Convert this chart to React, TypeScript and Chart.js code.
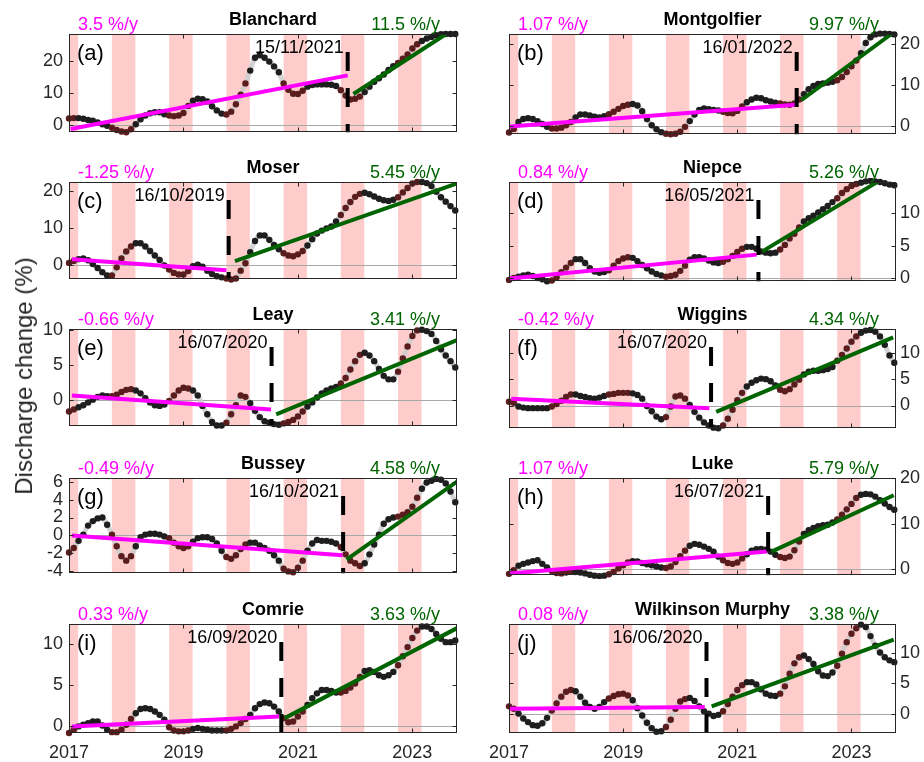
import React, { useEffect, useRef } from "react";
import { Chart, registerables } from "chart.js";

Chart.register(...registerables);

// ---------------- data ----------------
const START_YEAR = 2017; // first sample, one sample per month
const X_MIN = 2017;
const X_MAX = 2023.78;
const X_TICKS = [2017, 2019, 2021, 2023];
const SEASON_BANDS: number[][] = [
  [2016.75, 2017.16],
  [2017.75, 2018.16],
  [2018.75, 2019.16],
  [2019.75, 2020.16],
  [2020.75, 2021.16],
  [2021.75, 2022.16],
  [2022.75, 2023.16],
];

const NAMES = ["Blanchard", "Montgolfier", "Moser", "Niepce", "Leay", "Wiggins", "Bussey", "Luke", "Comrie", "Wilkinson Murphy"];
const LETTERS = ["(a)", "(b)", "(c)", "(d)", "(e)", "(f)", "(g)", "(h)", "(i)", "(j)"];
const PRE_RATES = ["3.5 %/y", "1.07 %/y", "-1.25 %/y", "0.84 %/y", "-0.66 %/y", "-0.42 %/y", "-0.49 %/y", "1.07 %/y", "0.33 %/y", "0.08 %/y"];
const POST_RATES = ["11.5 %/y", "9.97 %/y", "5.45 %/y", "5.26 %/y", "3.41 %/y", "4.34 %/y", "4.58 %/y", "5.79 %/y", "3.63 %/y", "3.38 %/y"];
const BREAK_LABELS = ["15/11/2021", "16/01/2022", "16/10/2019", "16/05/2021", "16/07/2020", "16/07/2020", "16/10/2021", "16/07/2021", "16/09/2020", "16/06/2020"];
const BREAK_YEARS = [2021.87, 2022.04, 2019.79, 2021.37, 2020.54, 2020.54, 2021.79, 2021.54, 2020.71, 2020.46];

// trend segments [x0, y0, x1, y1]
const PRE_TRENDS = [
  [2017.03, -1.2, 2021.87, 15.5],
  [2017.01, -0.1, 2022.02, 5.2],
  [2017.05, 1.6, 2019.75, -1.4],
  [2017.01, -0.1, 2021.34, 3.6],
  [2017.05, 0.6, 2020.53, -1.4],
  [2017.04, 1.3, 2020.51, -0.5],
  [2017.05, 0.0, 2021.78, -2.2],
  [2017.02, -0.9, 2021.52, 3.9],
  [2017.05, 0.0, 2020.67, 1.2],
  [2017.02, 0.8, 2020.43, 1.1],
];
const POST_TRENDS = [
  [2021.97, 9.7, 2023.59, 28.4],
  [2022.12, 6.3, 2023.7, 22.5],
  [2019.9, 1.1, 2023.78, 22.0],
  [2021.44, 4.1, 2023.47, 14.9],
  [2020.62, -2.1, 2023.78, 8.5],
  [2020.63, -1.2, 2023.73, 12.9],
  [2021.85, -2.7, 2023.78, 6.0],
  [2021.6, 3.9, 2023.74, 16.3],
  [2020.77, 1.0, 2023.78, 11.9],
  [2020.55, 1.2, 2023.74, 12.2],
];

const Y_MIN = [-2.2, -2.0, -3.8, -0.5, -3.8, -4.3, -4.2, -1.3, -0.8, -3.2];
const Y_MAX = [28.4, 22.5, 22.4, 14.8, 10.1, 14.5, 6.4, 20.1, 12.4, 14.8];
const Y_TICKS = [
  [0, 10, 20],
  [0, 10, 20],
  [0, 10, 20],
  [0, 5, 10],
  [0, 5, 10],
  [0, 5, 10],
  [-4, -2, 0, 2, 4, 6],
  [0, 10, 20],
  [0, 5, 10],
  [0, 5, 10],
];

const BLANCHARD = [
  2.1, 2.2, 2.2, 2.0, 1.6, 1.4, 0.8, 0.3, -0.2, -0.8, -1.5, -2.0,
  -2.2, -1.3, 0.3, 1.8, 3.0, 3.7, 4.0, 4.0, 3.4, 3.0, 2.8, 3.0,
  3.8, 6.0, 7.6, 8.2, 8.1, 7.4, 5.9, 4.6, 3.6, 3.3, 4.2, 6.5,
  9.5, 13.0, 17.0, 21.0, 21.8, 21.0, 19.8, 18.3, 16.5, 13.0, 11.0, 9.8,
  9.7, 10.7, 12.0, 12.5, 12.7, 12.7, 12.7, 12.6, 12.2, 10.9, 9.2, 8.0,
  8.2, 8.9, 10.3, 12.0, 13.5, 14.6, 15.8, 17.2, 18.4, 19.4, 20.7, 22.0,
  23.9, 25.2, 26.2, 27.0, 27.5, 28.0, 28.3, 28.4, 28.4, 28.4,
];
const MONTGOLFIER = [
  -1.6, -0.7, 1.0, 1.7, 1.9, 1.7, 1.2, 0.5, -0.2, -0.6, -0.6, -0.4,
  0.2, 1.0, 2.1, 2.8, 2.8, 2.6, 2.3, 2.1, 2.4, 2.9, 3.5, 4.2,
  4.9, 5.2, 5.4, 5.0, 3.6, 1.7, 0.2, -0.8, -1.5, -1.9, -2.0, -1.9,
  -1.4, -0.2, 1.2, 2.8, 3.9, 4.3, 4.1, 3.9, 3.8, 3.5, 3.2, 3.1,
  3.7, 4.8, 5.8, 6.5, 6.9, 6.8, 6.3, 6.0, 5.7, 5.5, 5.3, 5.2,
  5.5, 6.5, 7.8, 9.0, 9.8, 10.3, 10.4, 10.6, 10.8, 11.2, 12.0, 13.2,
  14.6, 16.0, 17.8, 20.3, 21.7, 22.4, 22.6, 22.6, 22.5, 22.4,
];
const MOSER = [
  0.6, 1.1, 1.6, 1.8, 1.3, 0.3, -0.8, -1.9, -2.8, -2.8, -0.6, 1.8,
  3.7, 5.0, 5.9, 5.9, 5.0, 3.8, 2.6, 1.4, -0.1, -1.2, -2.1, -2.5,
  -2.5, -1.6, -0.3, 0.1, -0.4, -1.5, -2.4, -3.0, -3.3, -3.6, -3.9, -3.6,
  -1.5, 0.5, 3.5, 6.5, 8.0, 8.0, 6.8, 5.4, 4.3, 3.2, 2.6, 2.4,
  2.9, 3.8, 5.3, 7.0, 8.5, 9.3, 9.9, 10.4, 11.8, 13.5, 15.4, 17.0,
  18.4, 19.2, 19.5, 19.1, 18.5, 17.9, 17.5, 17.3, 17.6, 18.3, 19.6, 20.8,
  22.0, 22.4, 22.4, 22.1, 21.3, 19.8, 18.3, 17.1, 15.9, 14.7,
];
const NIEPCE = [
  -0.3, 0.0, 0.2, 0.4, 0.5, 0.3, 0.0, -0.2, -0.5, -0.4, 0.1, 0.9,
  1.6, 2.3, 2.9, 2.9, 2.3, 1.5, 1.0, 0.8, 0.9, 1.2, 1.9, 2.6,
  3.0, 3.2, 3.1, 2.6, 2.0, 1.5, 1.0, 0.6, 0.4, 0.2, 0.3, 0.5,
  1.1, 1.9, 2.8, 3.2, 3.2, 3.0, 2.7, 2.4, 2.3, 2.5, 2.9, 3.4,
  4.0, 4.5, 4.8, 4.8, 4.5, 4.1, 3.9, 3.8, 3.9, 4.4, 5.1, 6.1,
  6.8, 7.8, 8.7, 9.2, 9.6, 10.1, 10.6, 11.1, 11.7, 12.3, 13.1, 13.7,
  14.2, 14.5, 14.7, 14.9, 15.0, 14.9, 14.8, 14.6, 14.4, 14.3,
];
const LEAY = [
  -1.7, -1.4, -1.1, -0.8, -0.4, 0.0, 0.4, 0.6, 0.5, 0.5, 0.7, 1.1,
  1.4, 1.5, 1.3, 0.9, 0.2, -0.4, -0.8, -0.9, -0.7, -0.2, 0.6, 1.3,
  1.7, 1.6, 1.3, 0.6, -0.9, -2.1, -3.2, -3.7, -3.7, -3.3, -2.1, -0.8,
  0.6, 0.4, -0.5, -1.6, -2.5, -3.1, -3.3, -3.5, -3.6, -3.4, -3.2, -2.9,
  -2.4, -1.7, -1.0, -0.4, 0.3, 0.9, 1.3, 1.6, 1.8, 2.3, 3.1, 4.3,
  5.5, 6.4, 6.7, 6.3, 5.5, 4.4, 3.4, 2.9, 2.9, 4.0, 5.9, 7.6,
  9.1, 9.9, 10.0, 9.8, 9.4, 8.4, 7.2, 6.3, 5.5, 4.6,
];
const WIGGINS = [
  0.7, 0.5, -0.2, -0.4, -0.5, -0.5, -0.5, -0.5, -0.5, -0.2, 0.3, 0.9,
  1.6, 2.1, 2.1, 1.8, 1.6, 1.4, 1.3, 1.5, 1.8, 2.1, 2.2, 2.4,
  2.4, 2.4, 2.3, 2.0, 1.3, -0.1, -1.1, -2.1, -2.6, -2.2, -0.2, 1.7,
  1.9, 1.3, 0.1, -1.2, -2.3, -3.2, -3.8, -4.2, -4.3, -3.8, -2.5, -0.8,
  1.0, 2.4, 3.6, 4.3, 4.8, 5.1, 5.0, 4.6, 3.8, 3.0, 2.7, 3.1,
  4.0, 4.9, 5.9, 6.4, 6.6, 6.6, 6.7, 6.9, 7.3, 8.5, 9.6, 10.8,
  12.1, 13.1, 13.8, 14.2, 14.3, 14.0, 13.1, 11.5, 9.5, 8.1,
];
const BUSSEY = [
  -1.9, -1.4, -0.6, 0.1, 1.1, 1.6, 1.9, 2.0, 1.2, 0.1, -1.2, -2.3,
  -2.8, -2.3, -1.2, -0.2, 0.1, 0.2, 0.2, 0.1, -0.1, -0.3, -0.8, -1.2,
  -1.4, -1.2, -0.7, -0.3, -0.2, -0.2, -0.4, -0.9, -1.7, -2.4, -2.6, -2.2,
  -1.5, -1.0, -0.8, -0.8, -1.1, -1.4, -1.7, -2.2, -2.8, -3.7, -4.0, -4.1,
  -3.6, -2.8, -1.7, -0.9, -0.5, -0.6, -0.6, -0.7, -0.9, -1.3, -2.1, -2.8,
  -3.1, -3.4, -3.1, -2.1, -1.0, 0.1, 1.3, 1.8, 2.0, 2.1, 2.3, 2.6,
  3.2, 4.2, 5.2, 5.9, 6.1, 6.3, 6.2, 5.8, 4.9, 3.7,
];
const LUKE = [
  -1.0, -0.2, 0.8, 1.2, 1.5, 1.8, 2.0, 1.2, 0.4, -0.4, -0.8, -0.9,
  -0.7, -0.5, -0.6, -0.7, -0.9, -1.2, -1.4, -1.5, -1.4, -1.1, -0.6, 0.2,
  0.9, 1.5, 1.8, 1.7, 1.4, 1.1, 0.9, 0.6, 0.4, 0.3, 0.6, 1.6,
  2.9, 4.1, 5.2, 5.6, 5.4, 5.0, 4.5, 3.9, 2.8, 2.0, 1.4, 1.2,
  1.5, 2.4, 3.3, 4.1, 4.4, 4.5, 4.3, 3.9, 3.2, 2.7, 2.5, 2.8,
  4.2, 6.1, 7.8, 8.6, 9.1, 9.5, 9.7, 9.8, 10.3, 11.0, 12.0, 13.2,
  14.4, 15.7, 16.4, 16.6, 16.5, 16.0, 15.2, 14.5, 13.7, 13.1,
];
const COMRIE = [
  -0.8, -0.4, 0.0, 0.2, 0.4, 0.6, 0.6, 0.1, -0.4, -0.7, -0.7, -0.4,
  0.2, 0.9, 1.6, 2.1, 2.2, 2.1, 1.8, 1.4, 0.8, -0.1, -0.5, -0.6,
  -0.6, -0.5, -0.3, -0.2, -0.3, -0.4, -0.5, -0.5, -0.5, -0.5, -0.3, 0.0,
  0.4, 0.9, 1.4, 2.2, 2.7, 2.9, 2.8, 2.4, 1.8, 1.0, 0.5, 0.6,
  1.2, 1.8, 2.6, 3.4, 4.0, 4.4, 4.4, 4.3, 4.1, 4.1, 4.3, 4.7,
  5.2, 6.0, 6.7, 6.8, 6.6, 6.2, 6.0, 6.2, 6.6, 7.4, 8.5, 9.6,
  10.7, 11.6, 12.1, 12.1, 11.8, 11.2, 10.6, 10.2, 10.2, 10.4,
];
const WILKINSON_MURPHY = [
  1.2, 0.8, 0.0, -0.8, -1.4, -1.9, -2.0, -1.6, -0.7, 0.5, 1.7, 2.8,
  3.6, 3.9, 3.7, 2.8, 1.8, 1.1, 0.8, 1.1, 1.9, 2.5, 2.9, 3.2,
  3.3, 3.0, 2.2, 0.9, -0.3, -1.5, -2.4, -3.0, -2.9, -2.2, -1.0, 0.8,
  2.0, 2.4, 2.6, 2.1, 1.2, 0.4, 0.0, -0.4, -0.2, 0.4, 1.6, 2.8,
  3.9, 4.7, 5.2, 5.2, 4.8, 4.0, 3.3, 3.0, 2.9, 3.3, 4.5, 6.6,
  8.3, 9.3, 9.6, 9.0, 8.2, 7.0, 6.3, 6.2, 6.8, 7.9, 9.9, 11.8,
  13.2, 14.1, 14.7, 14.3, 12.8, 11.2, 10.1, 9.3, 8.8, 8.5,
];

const SERIES = [BLANCHARD, MONTGOLFIER, MOSER, NIEPCE, LEAY, WIGGINS, BUSSEY, LUKE, COMRIE, WILKINSON_MURPHY];

// ---------------- layout / style ----------------
const FONT = '"Liberation Sans", Arial, Helvetica, sans-serif';
const ROW_TOPS = [34, 182, 329, 478, 624];
const ROW_HEIGHTS = [109, 108, 108, 106, 109];
const TOP_SPACE = 34;
const PINK = "#ffcccc";
const MAGENTA = "#ff00ff";
const GREEN = "#006400";
const DOT_BLACK = "#1e1e1e";
const DOT_RED = "#5a1c1c";
const AXIS_COLOR = "#262626";

function inSeason(t: number) {
  return SEASON_BANDS.some(([s, e]) => t >= s && t < e);
}

function Panel({ idx }: { idx: number }) {
  const ref = useRef<HTMLCanvasElement>(null);
  const col = idx % 2;
  const row = Math.floor(idx / 2);
  const isBottom = row === 4;
  const left = col === 0 ? 0 : 470;
  const width = col === 0 ? 470 : 454;
  const top = ROW_TOPS[row] - TOP_SPACE;
  const height = TOP_SPACE + ROW_HEIGHTS[row] + (isBottom ? 30 : 6);

  useEffect(() => {
    const series = SERIES[idx];
    const pts = series.map((v, k) => ({ x: START_YEAR + k / 12, y: v }));
    const colors = pts.map((p) => (inSeason(p.x) ? DOT_RED : DOT_BLACK));
    const pre = PRE_TRENDS[idx];
    const post = POST_TRENDS[idx];

    const decor = {
      id: "decor" + idx,
      beforeDatasetsDraw(chart: any) {
        const { ctx, chartArea: ca, scales } = chart;
        const xs = scales.x;
        const ys = scales.y;
        ctx.save();
        ctx.beginPath();
        ctx.rect(ca.left, ca.top, ca.right - ca.left, ca.bottom - ca.top);
        ctx.clip();
        ctx.fillStyle = PINK;
        for (const [s, e] of SEASON_BANDS) {
          const x0 = xs.getPixelForValue(s);
          const x1 = xs.getPixelForValue(e);
          ctx.fillRect(x0, ca.top, x1 - x0, ca.bottom - ca.top);
        }
        const y0 = Math.round(ys.getPixelForValue(0)) + 0.5;
        ctx.strokeStyle = "#a8a8a8";
        ctx.lineWidth = 1;
        ctx.beginPath();
        ctx.moveTo(ca.left, y0);
        ctx.lineTo(ca.right, y0);
        ctx.stroke();
        ctx.restore();
      },
      afterDatasetsDraw(chart: any) {
        const { ctx, chartArea: ca, scales } = chart;
        const xs = scales.x;
        const ys = scales.y;
        ctx.save();
        // break line
        const bx = xs.getPixelForValue(BREAK_YEARS[idx]);
        ctx.strokeStyle = "#000";
        ctx.lineWidth = 4;
        ctx.setLineDash([19, 17]);
        ctx.beginPath();
        ctx.moveTo(bx, ca.top + 18);
        ctx.lineTo(bx, ca.bottom);
        ctx.stroke();
        ctx.setLineDash([]);
        // frame
        ctx.strokeStyle = AXIS_COLOR;
        ctx.lineWidth = 1;
        const l = Math.round(ca.left) + 0.5;
        const r = Math.round(ca.right) - 0.5;
        const t = Math.round(ca.top) + 0.5;
        const b = Math.round(ca.bottom) - 0.5;
        ctx.strokeRect(l, t, r - l, b - t);
        // inner ticks
        ctx.beginPath();
        for (const v of X_TICKS) {
          const px = Math.round(xs.getPixelForValue(v)) + 0.5;
          ctx.moveTo(px, b);
          ctx.lineTo(px, b - 4);
          ctx.moveTo(px, t);
          ctx.lineTo(px, t + 4);
        }
        for (const v of Y_TICKS[idx]) {
          const py = Math.round(ys.getPixelForValue(v)) + 0.5;
          ctx.moveTo(l, py);
          ctx.lineTo(l + 4, py);
          ctx.moveTo(r, py);
          ctx.lineTo(r - 4, py);
        }
        ctx.stroke();
        ctx.restore();
      },
      afterDraw(chart: any) {
        const { ctx, chartArea: ca, scales } = chart;
        const bx = scales.x.getPixelForValue(BREAK_YEARS[idx]);
        ctx.save();
        ctx.textBaseline = "alphabetic";
        // title
        ctx.font = `bold 18px ${FONT}`;
        ctx.fillStyle = "#000";
        ctx.textAlign = "center";
        ctx.fillText(NAMES[idx], (ca.left + ca.right) / 2 + 10, ca.top - 9);
        // rates
        ctx.font = `18px ${FONT}`;
        ctx.textAlign = "left";
        ctx.fillStyle = MAGENTA;
        ctx.fillText(PRE_RATES[idx], ca.left + 9, ca.top - 4);
        ctx.textAlign = "right";
        ctx.fillStyle = GREEN;
        ctx.fillText(POST_RATES[idx], ca.right - 17, ca.top - 4);
        // break date
        ctx.fillStyle = "#000";
        ctx.textAlign = "right";
        ctx.fillText(BREAK_LABELS[idx], bx - 4, ca.top + 19);
        // panel letter
        ctx.font = `22px ${FONT}`;
        ctx.textAlign = "left";
        ctx.fillStyle = "#000";
        ctx.fillText(LETTERS[idx], ca.left + 8, ca.top + 26);
        ctx.restore();
      },
    };

    const chart = new Chart(ref.current as HTMLCanvasElement, {
      type: "line",
      data: {
        datasets: [
          {
            data: [
              { x: pre[0], y: pre[1] },
              { x: pre[2], y: pre[3] },
            ],
            borderColor: MAGENTA,
            borderWidth: 4,
            pointRadius: 0,
            order: 0,
          },
          {
            data: [
              { x: post[0], y: post[1] },
              { x: post[2], y: post[3] },
            ],
            borderColor: GREEN,
            borderWidth: 4,
            pointRadius: 0,
            order: 0,
          },
          {
            data: pts,
            showLine: false,
            pointRadius: 3.2,
            pointBackgroundColor: colors,
            pointBorderColor: colors,
            pointBorderWidth: 0,
            order: 1,
            clip: { left: 4, right: 4, top: 4, bottom: 4 },
          } as any,
          {
            data: pts,
            borderColor: "rgba(205,205,205,0.85)",
            borderWidth: 5,
            pointRadius: 0,
            tension: 0.35,
            order: 2,
          },
        ],
      },
      options: {
        responsive: false,
        animation: false,
        devicePixelRatio: 1,
        events: [],
        layout: {
          padding: {
            top: TOP_SPACE,
            bottom: isBottom ? 0 : 6,
            left: col === 0 ? 0 : 39,
            right: col === 0 ? 13 : 0,
          },
        },
        plugins: { legend: { display: false }, tooltip: { enabled: false } },
        scales: {
          x: {
            type: "linear",
            min: X_MIN,
            max: X_MAX,
            display: isBottom,
            afterBuildTicks: (s: any) => {
              s.ticks = X_TICKS.map((v) => ({ value: v }));
            },
            afterFit: (s: any) => {
              s.height = isBottom ? 30 : 0;
            },
            grid: { display: false, drawTicks: false },
            border: { display: false },
            ticks: {
              callback: (v: any) => String(v),
              font: { family: FONT, size: 18 },
              color: AXIS_COLOR,
              padding: 9,
              maxRotation: 0,
              autoSkip: false,
            },
          },
          y: {
            type: "linear",
            min: Y_MIN[idx],
            max: Y_MAX[idx],
            position: col === 0 ? "left" : "right",
            afterBuildTicks: (s: any) => {
              s.ticks = Y_TICKS[idx].map((v) => ({ value: v }));
            },
            afterFit: (s: any) => {
              s.width = col === 0 ? 69 : 28;
            },
            grid: { display: false, drawTicks: false },
            border: { display: false },
            ticks: {
              callback: (v: any) => String(v),
              font: { family: FONT, size: 18 },
              color: AXIS_COLOR,
              padding: col === 0 ? 6 : 4,
              autoSkip: false,
            },
          },
        },
      },
      plugins: [decor],
    } as any);
    return () => chart.destroy();
  }, [idx]);

  return (
    <canvas
      ref={ref}
      width={width}
      height={height}
      style={{ position: "absolute", left, top, width, height }}
    />
  );
}

export default function App() {
  return (
    <div style={{ position: "absolute", left: 0, top: 0, width: 924, height: 762, background: "#fff", overflow: "hidden" }}>
      {NAMES.map((_, i) => (
        <Panel key={i} idx={i} />
      ))}
      <div
        style={{
          position: "absolute",
          left: 24,
          top: 376,
          transform: "translate(-50%, -50%) rotate(-90deg)",
          whiteSpace: "nowrap",
          fontFamily: FONT,
          fontSize: 24,
          color: AXIS_COLOR,
        }}
      >
        Discharge change (%)
      </div>
    </div>
  );
}
